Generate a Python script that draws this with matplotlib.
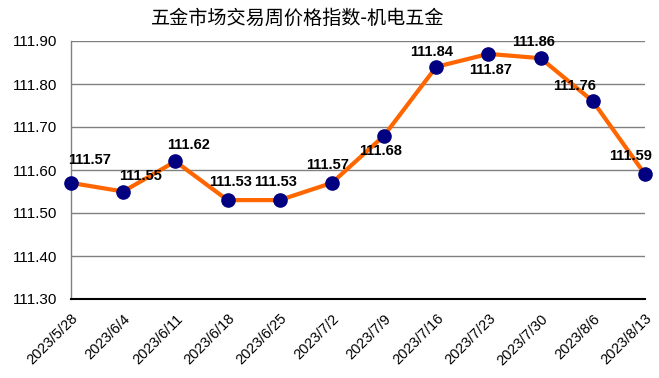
import matplotlib
matplotlib.use("Agg")
import matplotlib.pyplot as plt

dates = ["2023/5/28", "2023/6/4", "2023/6/11", "2023/6/18", "2023/6/25", "2023/7/2",
         "2023/7/9", "2023/7/16", "2023/7/23", "2023/7/30", "2023/8/6", "2023/8/13"]
values = [111.57, 111.55, 111.62, 111.53, 111.53, 111.57,
          111.68, 111.84, 111.87, 111.86, 111.76, 111.59]
yticks = [111.30, 111.40, 111.50, 111.60, 111.70, 111.80, 111.90]
title = "五金市场交易周价格指数-机电五金"

# label offsets in pixels (dx, dy)
offsets = [(19, 23), (17, 16), (13, 16), (3, 18), (-4, 18), (-4, 18),
           (-4, -15), (-5, 15), (2, -16), (-7, 16), (-18, 15), (-14, 18)]

plt.rcParams['font.family'] = ['Liberation Sans', 'DejaVu Sans']

fig = plt.figure(figsize=(6.59, 3.78), dpi=100)
ax = fig.add_axes([71/659, 1-299/378, (645-71)/659, (299-41)/378])

x = list(range(len(dates)))
ax.plot(x, values, color='#FF6600', linewidth=3, zorder=3, clip_on=False)
ax.plot(x, values, linestyle='none', marker='o', markersize=9.5,
        markerfacecolor='#000080', markeredgecolor='#000080', zorder=4, clip_on=False)

for i, v in enumerate(values):
    dx, dy = offsets[i]
    ax.annotate(f"{v:.2f}", (i, v), xytext=(dx, dy), textcoords='offset pixels',
                ha='center', va='center', fontsize=10.5, fontweight='bold', color='black', zorder=5)

ax.set_xlim(0, len(dates) - 1)
ax.set_ylim(111.30, 111.90)
ax.set_yticks(yticks)
ax.set_yticklabels([f"{t:.2f}" for t in yticks], fontsize=11)
ax.set_xticks(x)
ax.set_xticklabels(dates, rotation=45, ha='right', va='top', fontsize=10.5,
                   rotation_mode='anchor')
ax.tick_params(axis='both', length=0)
ax.tick_params(axis='y', pad=10)
ax.tick_params(axis='x', pad=9)

ax.grid(axis='y', color='#808080', linewidth=1)
ax.set_axisbelow(True)
for s in ['top', 'right']:
    ax.spines[s].set_visible(False)
ax.spines['left'].set_color('#808080')
ax.spines['left'].set_linewidth(1)
ax.spines['bottom'].set_color('black')
ax.spines['bottom'].set_linewidth(1.5)

fig.text(298/659, 1-18/378, title, ha='center', va='center', fontsize=13.8,
         family=['Noto Sans CJK SC', 'DejaVu Sans'])

fig.savefig('out.png', dpi=100)
